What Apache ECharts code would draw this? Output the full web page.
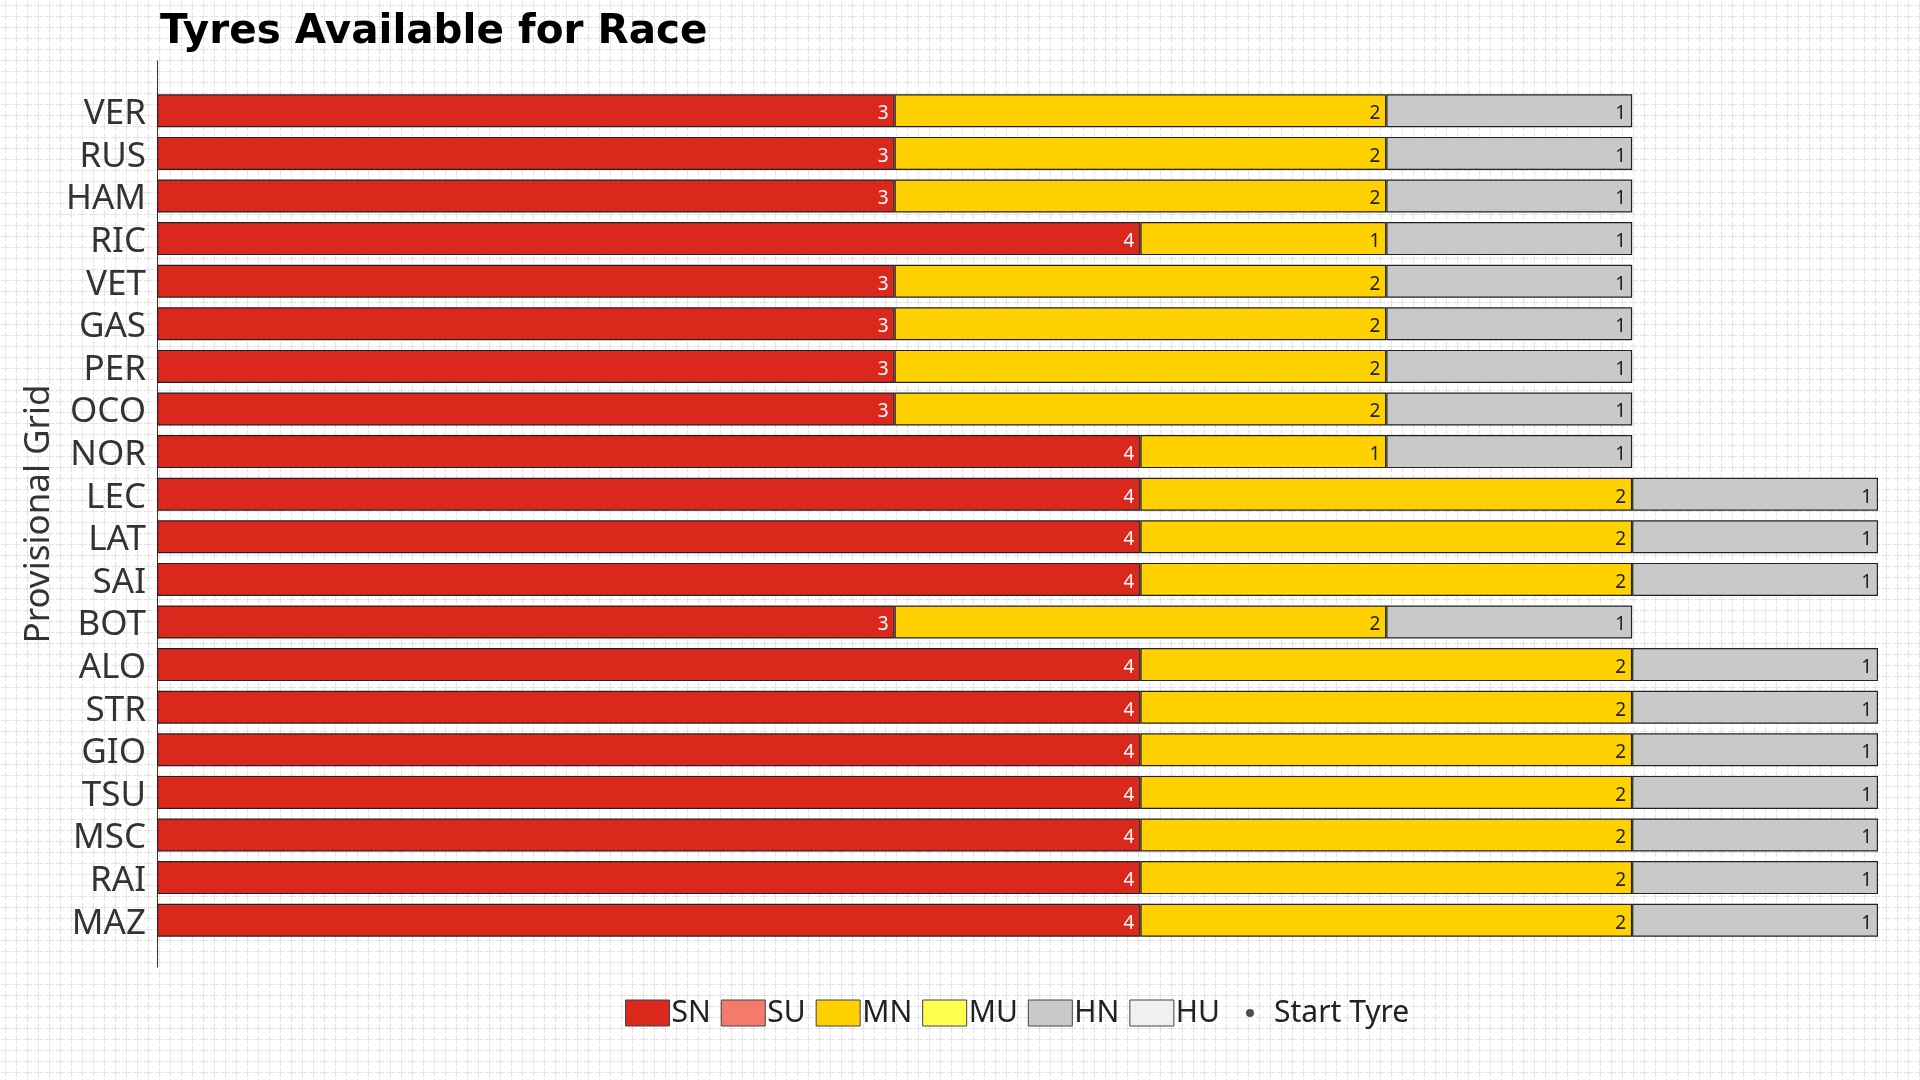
<!DOCTYPE html>
<html>
<head>
<meta charset="utf-8">
<script src="https://cdn.jsdelivr.net/npm/echarts@6/dist/echarts.min.js"></script>
<style>
html, body { margin: 0; padding: 0; }
body {
  width: 1920px; height: 1080px; overflow: hidden;
  background-color: #ffffff;
  background-image: url("data:image/svg+xml;utf8,<svg xmlns='http://www.w3.org/2000/svg' width='11' height='11'><path d='M1 5.5H10M5.5 1V10' stroke='%23e3e3e3' stroke-width='1' fill='none'/></svg>");
  background-size: 11px 11px;
}
#chart { width: 1920px; height: 1080px; }
</style>
</head>
<body>
<div id="chart"></div>
<script>
const drivers = ['VER','RUS','HAM','RIC','VET','GAS','PER','OCO','NOR','LEC','LAT','SAI','BOT','ALO','STR','GIO','TSU','MSC','RAI','MAZ'];
const softNew   = [3,3,3,4,3,3,3,3,4,4,4,4,3,4,4,4,4,4,4,4];
const softUsed  = [];
const medNew    = [2,2,2,1,2,2,2,2,1,2,2,2,2,2,2,2,2,2,2,2];
const medUsed   = [];
const hardNew   = [1,1,1,1,1,1,1,1,1,1,1,1,1,1,1,1,1,1,1,1];
const hardUsed  = [];
const startTyre = [];
const tyreNames = ['SN','SU','MN','MU','HN','HU'];

const colors = { SN:'#DA291C', SU:'#F47A6B', MN:'#FFD100', MU:'#FFFF4D', HN:'#C9C9C9', HU:'#F0F0F0' };
const labelColors = { SN:'#ffffff', SU:'#222', MN:'#222', MU:'#222', HN:'#222', HU:'#222' };
const dataMap = { SN: softNew, SU: softUsed, MN: medNew, MU: medUsed, HN: hardNew, HU: hardUsed };

const font = 'Noto Sans';
const chart = echarts.init(document.getElementById('chart'));

const barSeries = tyreNames.map(n => ({
  name: n,
  type: 'bar',
  stack: 'tyres',
  xAxisIndex: 1,
  yAxisIndex: 1,
  barCategoryGap: '22.5%',
  data: dataMap[n],
  itemStyle: { color: colors[n], borderColor: '#222', borderWidth: 1.2 },
  label: {
    show: true,
    position: 'insideRight',
    distance: 6,
    offset: [0, 3],
    color: labelColors[n],
    fontFamily: font,
    fontSize: 19,
    formatter: p => p.value > 0 ? String(p.value) : ''
  },
  emphasis: { disabled: true }
}));

chart.setOption({
  animation: false,
  backgroundColor: 'transparent',
  title: {
    text: 'Tyres Available for Race',
    left: 155,
    top: 7,
    textStyle: { fontFamily: 'DejaVu Sans', fontWeight: 'bold', fontSize: 40.5, color: '#000' }
  },
  legend: [
    {
      data: tyreNames.map(n => ({ name: n, icon: 'rect' })),
      left: 620,
      top: 993,
      itemWidth: 44,
      itemHeight: 26,
      itemGap: 10,
      textStyle: { fontFamily: font, fontSize: 30, color: '#222', padding: [0, 0, 0, -3] },
      itemStyle: { borderColor: '#444', borderWidth: 1 },
      selectedMode: false
    },
    {
      data: [{ name: 'Start Tyre', icon: 'circle' }],
      left: 1241,
      top: 993,
      itemWidth: 8,
      itemHeight: 8,
      textStyle: { fontFamily: font, fontSize: 30, color: '#222', padding: [0, 0, 0, 15] },
      selectedMode: false
    }
  ],
  grid: [
    { left: 157, right: 42, top: 61, bottom: 113 },
    { left: 157, right: 42, top: 89.5, bottom: 138.5 }
  ],
  xAxis: [
    { gridIndex: 0, type: 'value', min: 0, max: 7, show: false },
    { gridIndex: 1, type: 'value', min: 0, max: 7, show: false }
  ],
  yAxis: [
    {
      gridIndex: 0, type: 'value', min: 0, max: 1,
      position: 'left',
      name: 'Provisional Grid',
      nameLocation: 'middle',
      nameGap: 100,
      nameTextStyle: { fontFamily: font, fontSize: 35, color: '#333' },
      axisLine: { show: true, onZero: false, lineStyle: { color: '#333', width: 1 } },
      axisTick: { show: false },
      axisLabel: { show: false },
      splitLine: { show: false }
    },
    {
      gridIndex: 1, type: 'category', inverse: true,
      data: drivers,
      axisLine: { show: false },
      axisTick: { show: false },
      splitLine: { show: false },
      axisLabel: {
        interval: 0, margin: 11,
        formatter: v => '{d|' + v + '}',
        rich: { d: { fontFamily: font, fontSize: 35, color: '#333', padding: [7, 0, 0, 0] } }
      }
    }
  ],
  series: [
    ...barSeries,
    {
      name: 'Start Tyre',
      type: 'scatter',
      xAxisIndex: 1,
      yAxisIndex: 1,
      data: startTyre,
      symbol: 'circle',
      symbolSize: 8,
      itemStyle: { color: '#222' }
    }
  ]
});
</script>
</body>
</html>
